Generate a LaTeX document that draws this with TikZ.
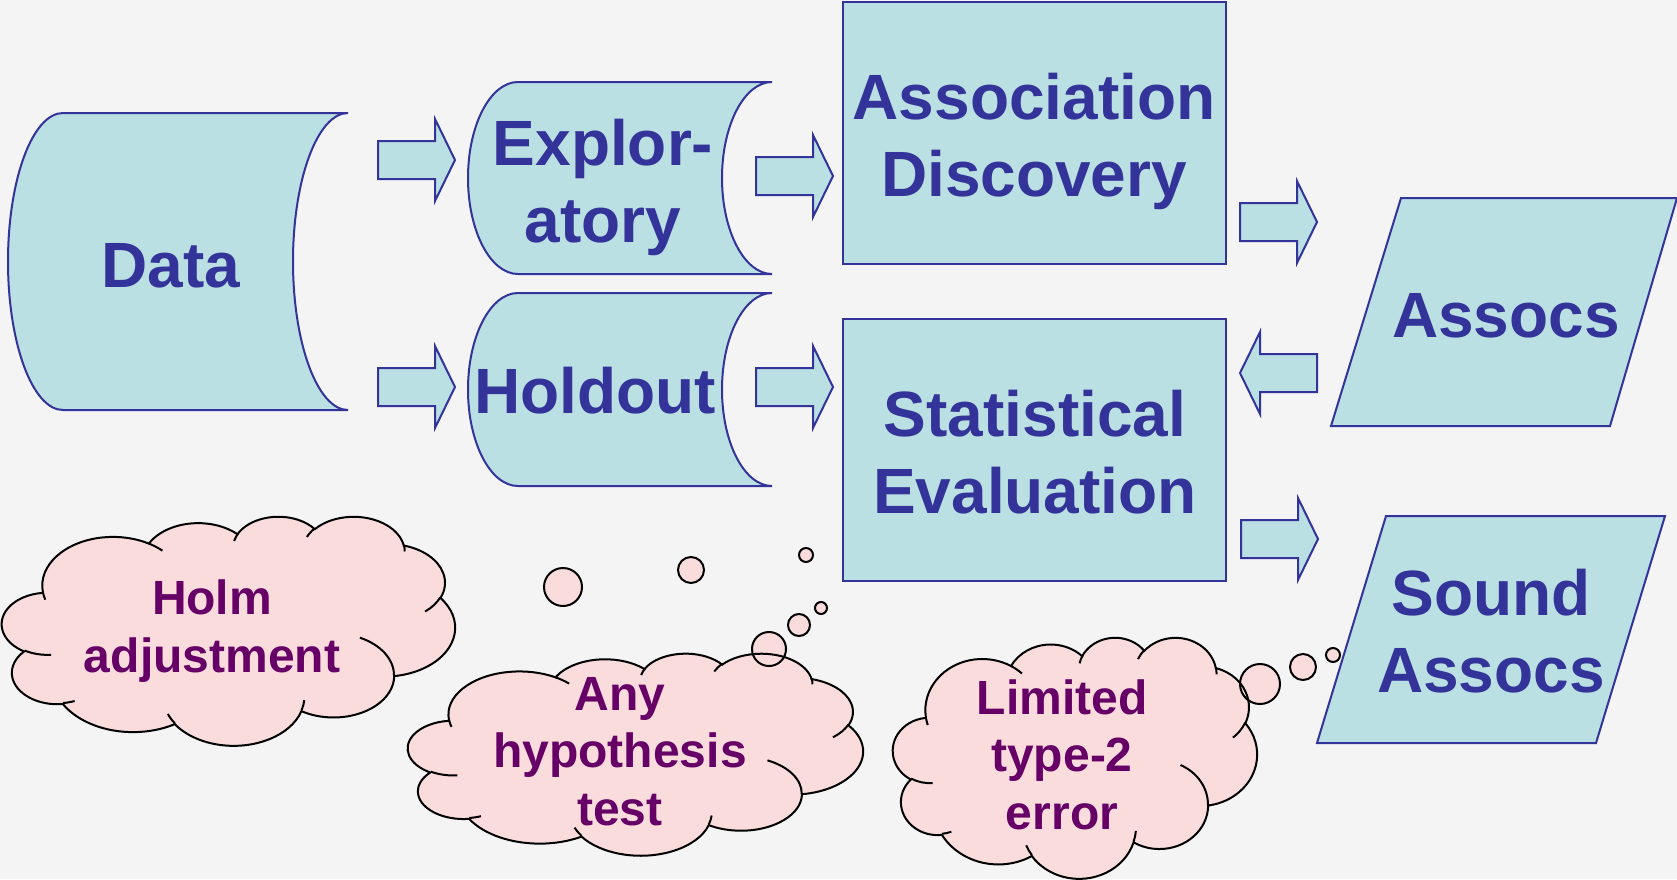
\documentclass[tikz,border=0pt]{standalone}
\usepackage{fontspec}
\setmainfont{Liberation Sans}
\definecolor{bg}{HTML}{F4F4F4}
\definecolor{boxfill}{HTML}{BAE0E3}
\definecolor{boxline}{HTML}{333399}
\definecolor{cloudfill}{HTML}{FADCDD}
\definecolor{cloudtext}{HTML}{660066}

% true angle on an ellipse -> parametric angle (k = x radius / y radius)
\pgfmathdeclarefunction{ptang}{2}{%
  \begingroup
  \pgfmathparse{#2+atan((#1-1)*sin(#2)*cos(#2)/((cos(#2))^2+#1*(sin(#2))^2))}%
  \pgfmathsmuggle\pgfmathresult
  \endgroup}
\tikzset{puff/.style n args={4}{insert path={arc[x radius=#1,y radius=#2,
  start angle={ptang(#1/#2,#3)},end angle={ptang(#1/#2,#3+#4)}]}}}

% cloud in a box: left, top, width, height
\newcommand{\cloudat}[4]{%
\begin{scope}[shift={(#1,#2)},xscale=#3/432,yscale=#4/432]
\draw[black,line width=1pt,fill=cloudfill] (39,143.7)
  [puff={67.53}{91.90}{-190.487}{123.781}]
  [puff={53.33}{72.67}{-144.102}{89.945}]
  [puff={43.65}{59.45}{-145.808}{99.723}]
  [puff={48.57}{65.95}{-130.986}{117.242}]
  [puff={53.33}{72.73}{-78.709}{109.027}]
  [puff={67.75}{92.20}{-46.267}{130.269}]
  [puff={57.85}{78.67}{0.625}{114.033}]
  [puff={67.52}{92.15}{22.452}{115.173}]
  [puff={77.20}{105.43}{66.243}{75.711}]
  [puff={43.60}{59.18}{-274.942}{146.736}]
  [puff={43.45}{59.45}{-246.829}{152.519}] -- cycle;
\draw[black,line width=1pt]
  (46.93,261.77) [puff={43.45}{59.45}{86.742}{26.430}]
  (69.28,348.99) [puff={43.60}{59.18}{73.610}{11.447}]
  (164.78,390.90) [puff={67.52}{92.15}{137.624}{14.081}]
  (288.27,347.51) [puff={67.52}{92.15}{6.453}{15.998}]
  (341.29,229.54) [puff={57.85}{78.67}{-70.292}{70.917}]
  (417.98,153.54) [puff={53.33}{72.73}{30.318}{27.752}]
  (383.24,54.26) [puff={48.57}{65.95}{-13.744}{14.859}]
  (290.78,39.52) [puff={48.57}{65.95}{-149.181}{18.195}]
  (221.41,47.20) [puff={43.65}{59.45}{-163.494}{17.686}]
  (140.00,51.92) [puff={67.53}{91.90}{-66.707}{12.319}]
  (41.27,157.89) [puff={67.53}{91.90}{157.654}{11.858}];
\end{scope}}

\begin{document}
\begin{tikzpicture}[x=0.5pt,y=-0.5pt,
  shp/.style={draw=boxline,fill=boxfill,line width=1pt},
  big/.style={text=boxline,align=center,anchor=base,inner sep=0pt,
    font=\fontsize{32}{38.5}\selectfont\bfseries},
  small/.style={text=cloudtext,align=center,anchor=base,inner sep=0pt,
    font=\fontsize{24}{28.75}\selectfont\bfseries},
  barrow/.pic={\draw[shp] (0,-19) -- (57,-19) -- (57,-41) -- (77,0)
    -- (57,41) -- (57,19) -- (0,19) -- cycle;}]
\useasboundingbox (0,0) rectangle (1677,879);
\fill[bg] (0,0) rectangle (1677,879);

% data stores
\draw[shp] (63,113) -- (348,113)
  arc[start angle=270,end angle=90,x radius=55,y radius=148.5] -- (63,410)
  arc[start angle=90,end angle=270,x radius=55,y radius=148.5] -- cycle;
\node[big] (data) at (171,287) {Data};
\draw[shp] (518,82) -- (772,82)
  arc[start angle=270,end angle=90,x radius=50,y radius=96] -- (518,274)
  arc[start angle=90,end angle=270,x radius=50,y radius=96] -- cycle;
\node[big] (expl) at (603,242) {Explor-\\atory};
\draw[shp] (518,293) -- (772,293)
  arc[start angle=270,end angle=90,x radius=50,y radius=96.5] -- (518,486)
  arc[start angle=90,end angle=270,x radius=50,y radius=96.5] -- cycle;
\node[big] (hold) at (595,413) {Holdout};

% processes
\draw[shp] (843,2) rectangle (1226,264);
\node[big] (disc) at (1034,196) {Association\\Discovery};
\draw[shp] (843,319) rectangle (1226,581);
\node[big] (eval) at (1035,513) {Statistical\\Evaluation};

% outputs
\draw[shp] (1401,198) -- (1677,198) -- (1610,426) -- (1331,426) -- cycle;
\node[big] (assocs) at (1506,337) {Assocs};
\draw[shp] (1386,516) -- (1665,516) -- (1596,743) -- (1317,743) -- cycle;
\node[big] (sound) at (1491,692) {Sound\\Assocs};

% block arrows
\pic at (378,160) {barrow};
\pic at (378,387) {barrow};
\pic at (756,176) {barrow};
\pic at (756,387) {barrow};
\pic at (1240,222) {barrow};
\pic[rotate=180] at (1317,373) {barrow};
\pic at (1241,539) {barrow};

% thought clouds
\foreach \x/\y/\r in {563/587/19,691/570/13,806/555/7,769/649/17,799/625/11,
  821/608/6,1260/684/20,1303/667/13,1333/655/7}
  \fill[cloudfill] (\x,\y) circle[radius=\r];
\cloudat{2}{516}{453}{229}
\cloudat{408}{653}{455}{202}
\cloudat{893}{637}{364}{241}
\foreach \x/\y/\r in {563/587/19,691/570/13,806/555/7,769/649/17,799/625/11,
  821/608/6,1260/684/20,1303/667/13,1333/655/7}
  \draw[black,line width=1pt] (\x,\y) circle[radius=\r];
\node[small] (holm) at (212,672) {Holm\\adjustment};
\node[small] (anytest) at (620,825) {Any\\hypothesis\\test};
\node[small] (limit) at (1062,829) {Limited\\type-2\\error};
\end{tikzpicture}
\end{document}
